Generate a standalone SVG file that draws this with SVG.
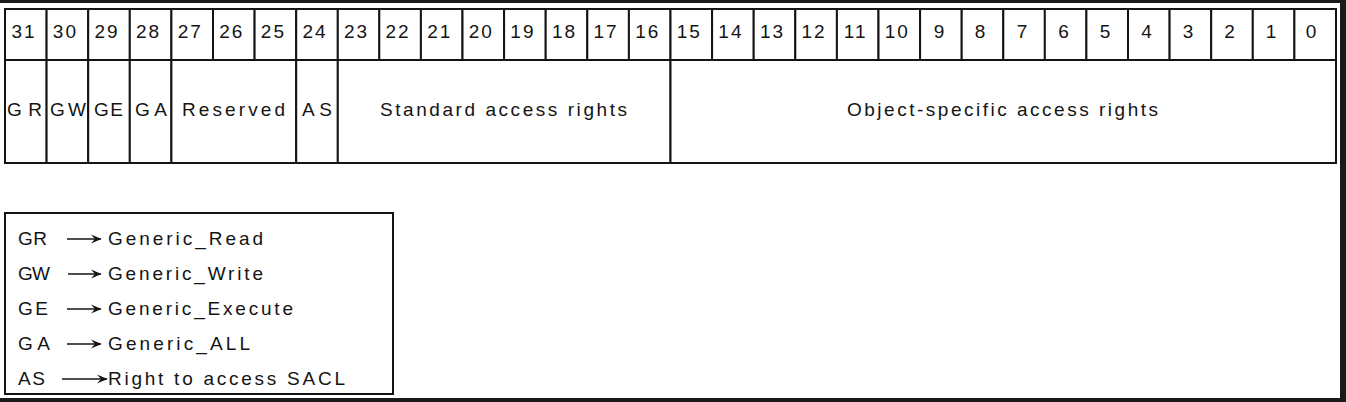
<svg xmlns="http://www.w3.org/2000/svg" width="1346" height="402" viewBox="0 0 1346 402">
<style>
.ln{fill:#fff;stroke:#141414;stroke-width:2}
.t{font-family:"Liberation Sans",Arial,sans-serif;font-size:19px;fill:#141414}
.d{text-anchor:middle;letter-spacing:2px}
.ar{stroke:#141414;stroke-width:1.6;fill:none;marker-end:url(#ah)}
</style>
<defs>
<marker id="ah" markerUnits="userSpaceOnUse" markerWidth="11" markerHeight="10" refX="10" refY="5" orient="auto" viewBox="0 0 11 10">
<path d="M0,0.5 L10.5,5 L0,9.5 L4,5 Z" fill="#141414"/>
</marker>
</defs>
<rect x="0" y="0" width="1346" height="402" fill="#1a1a1a"/>
<rect x="0" y="3" width="1340" height="395" fill="#fff"/>
<g id="bits">
<g id="bit31"><rect class="ln" x="5" y="9" width="41.6" height="51"/><text class="t d" x="24" y="38">31</text></g>
<g id="bit30"><rect class="ln" x="46.6" y="9" width="41.6" height="51"/><text class="t d" x="65.4" y="38">30</text></g>
<g id="bit29"><rect class="ln" x="88.2" y="9" width="41.6" height="51"/><text class="t d" x="107" y="38">29</text></g>
<g id="bit28"><rect class="ln" x="129.8" y="9" width="41.6" height="51"/><text class="t d" x="148.6" y="38">28</text></g>
<g id="bit27"><rect class="ln" x="171.4" y="9" width="41.6" height="51"/><text class="t d" x="190.2" y="38">27</text></g>
<g id="bit26"><rect class="ln" x="213" y="9" width="41.6" height="51"/><text class="t d" x="231.8" y="38">26</text></g>
<g id="bit25"><rect class="ln" x="254.6" y="9" width="41.6" height="51"/><text class="t d" x="273.4" y="38">25</text></g>
<g id="bit24"><rect class="ln" x="296.2" y="9" width="41.6" height="51"/><text class="t d" x="315" y="38">24</text></g>
<g id="bit23"><rect class="ln" x="337.8" y="9" width="41.6" height="51"/><text class="t d" x="356.5" y="38">23</text></g>
<g id="bit22"><rect class="ln" x="379.3" y="9" width="41.6" height="51"/><text class="t d" x="398.1" y="38">22</text></g>
<g id="bit21"><rect class="ln" x="420.9" y="9" width="41.6" height="51"/><text class="t d" x="439.7" y="38">21</text></g>
<g id="bit20"><rect class="ln" x="462.5" y="9" width="41.6" height="51"/><text class="t d" x="481.3" y="38">20</text></g>
<g id="bit19"><rect class="ln" x="504.1" y="9" width="41.6" height="51"/><text class="t d" x="522.9" y="38">19</text></g>
<g id="bit18"><rect class="ln" x="545.7" y="9" width="41.6" height="51"/><text class="t d" x="564.5" y="38">18</text></g>
<g id="bit17"><rect class="ln" x="587.3" y="9" width="41.6" height="51"/><text class="t d" x="606.1" y="38">17</text></g>
<g id="bit16"><rect class="ln" x="628.9" y="9" width="41.6" height="51"/><text class="t d" x="647.7" y="38">16</text></g>
<g id="bit15"><rect class="ln" x="670.5" y="9" width="41.6" height="51"/><text class="t d" x="689.3" y="38">15</text></g>
<g id="bit14"><rect class="ln" x="712.1" y="9" width="41.6" height="51"/><text class="t d" x="730.9" y="38">14</text></g>
<g id="bit13"><rect class="ln" x="753.7" y="9" width="41.6" height="51"/><text class="t d" x="772.5" y="38">13</text></g>
<g id="bit12"><rect class="ln" x="795.3" y="9" width="41.6" height="51"/><text class="t d" x="814.1" y="38">12</text></g>
<g id="bit11"><rect class="ln" x="836.9" y="9" width="41.6" height="51"/><text class="t d" x="855.7" y="38">11</text></g>
<g id="bit10"><rect class="ln" x="878.5" y="9" width="41.6" height="51"/><text class="t d" x="897.3" y="38">10</text></g>
<g id="bit9"><rect class="ln" x="920.1" y="9" width="41.6" height="51"/><text class="t d" x="940" y="38">9</text></g>
<g id="bit8"><rect class="ln" x="961.7" y="9" width="41.6" height="51"/><text class="t d" x="981" y="38">8</text></g>
<g id="bit7"><rect class="ln" x="1003.3" y="9" width="41.6" height="51"/><text class="t d" x="1023" y="38">7</text></g>
<g id="bit6"><rect class="ln" x="1044.8" y="9" width="41.6" height="51"/><text class="t d" x="1064.5" y="38">6</text></g>
<g id="bit5"><rect class="ln" x="1086.4" y="9" width="41.6" height="51"/><text class="t d" x="1106" y="38">5</text></g>
<g id="bit4"><rect class="ln" x="1128" y="9" width="41.6" height="51"/><text class="t d" x="1147.5" y="38">4</text></g>
<g id="bit3"><rect class="ln" x="1169.6" y="9" width="41.6" height="51"/><text class="t d" x="1189" y="38">3</text></g>
<g id="bit2"><rect class="ln" x="1211.2" y="9" width="41.6" height="51"/><text class="t d" x="1230.5" y="38">2</text></g>
<g id="bit1"><rect class="ln" x="1252.8" y="9" width="41.6" height="51"/><text class="t d" x="1272" y="38">1</text></g>
<g id="bit0"><rect class="ln" x="1294.4" y="9" width="41.6" height="51"/><text class="t d" x="1312" y="38">0</text></g>
</g>
<g id="fields">
<g id="field-GR"><rect class="ln" x="5" y="60" width="41.6" height="103"/><text class="t" x="7" y="116" textLength="35" lengthAdjust="spacing">GR</text></g>
<g id="field-GW"><rect class="ln" x="46.6" y="60" width="41.6" height="103"/><text class="t" x="50" y="116" textLength="36" lengthAdjust="spacing">GW</text></g>
<g id="field-GE"><rect class="ln" x="88.2" y="60" width="41.6" height="103"/><text class="t" x="94" y="116" textLength="29" lengthAdjust="spacing">GE</text></g>
<g id="field-GA"><rect class="ln" x="129.8" y="60" width="41.6" height="103"/><text class="t" x="135" y="116" textLength="32" lengthAdjust="spacing">GA</text></g>
<g id="field-Reserved"><rect class="ln" x="171.4" y="60" width="124.8" height="103"/><text class="t" x="182" y="116" textLength="103" lengthAdjust="spacing">Reserved</text></g>
<g id="field-AS"><rect class="ln" x="296.2" y="60" width="41.6" height="103"/><text class="t" x="302" y="116" textLength="30" lengthAdjust="spacing">AS</text></g>
<g id="field-standard"><rect class="ln" x="337.8" y="60" width="332.7" height="103"/><text class="t" x="380" y="116" textLength="247" lengthAdjust="spacing">Standard access rights</text></g>
<g id="field-object"><rect class="ln" x="670.5" y="60" width="665.5" height="103"/><text class="t" x="847" y="116" textLength="311" lengthAdjust="spacing">Object-specific access rights</text></g>
</g>
<g id="legend">
<rect class="ln" x="5" y="213" width="388" height="181"/>
<text class="t" x="18" y="245" textLength="29" lengthAdjust="spacing">GR</text>
<text class="t" x="108" y="245" textLength="155" lengthAdjust="spacing">Generic_Read</text>
<text class="t" x="18" y="280" textLength="32" lengthAdjust="spacing">GW</text>
<text class="t" x="108" y="280" textLength="155" lengthAdjust="spacing">Generic_Write</text>
<text class="t" x="18" y="315" textLength="30" lengthAdjust="spacing">GE</text>
<text class="t" x="108" y="315" textLength="185" lengthAdjust="spacing">Generic_Execute</text>
<text class="t" x="18" y="350" textLength="32" lengthAdjust="spacing">GA</text>
<text class="t" x="108" y="350" textLength="142" lengthAdjust="spacing">Generic_ALL</text>
<text class="t" x="18" y="385" textLength="27" lengthAdjust="spacing">AS</text>
<text class="t" x="108" y="385" textLength="237" lengthAdjust="spacing">Right to access SACL</text>
</g>
<g id="connectors">
<line class="ar" x1="67" y1="239" x2="101" y2="239"/>
<line class="ar" x1="68" y1="274" x2="101" y2="274"/>
<line class="ar" x1="67" y1="309" x2="101" y2="309"/>
<line class="ar" x1="67" y1="344" x2="101" y2="344"/>
<line class="ar" x1="62" y1="379" x2="107" y2="379"/>
</g>
</svg>
